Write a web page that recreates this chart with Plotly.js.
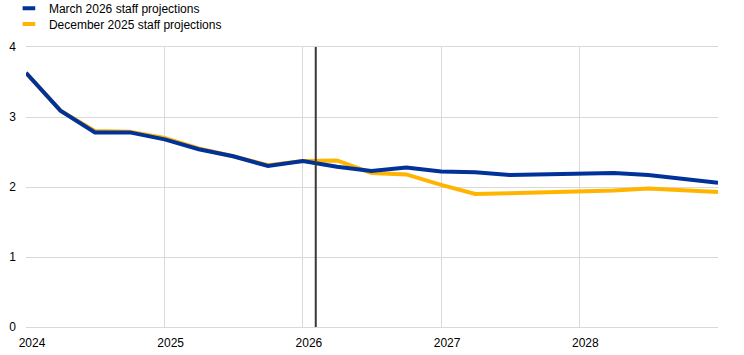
<!DOCTYPE html>
<html>
<head>
<meta charset="utf-8">
<script src="https://cdn.plot.ly/plotly-3.0.1.min.js"></script>
<style>html,body{margin:0;padding:0;background:#fff;}#chart{width:744px;height:355px;}</style>
</head>
<body>
<div id="chart"></div>
<script>
// Quarterly observation dates
const quarters = [
  "2024-01-01","2024-04-01","2024-07-01","2024-10-01",
  "2025-01-01","2025-04-01","2025-07-01","2025-10-01",
  "2026-01-01","2026-04-01","2026-07-01","2026-10-01",
  "2027-01-01","2027-04-01","2027-07-01","2027-10-01",
  "2028-01-01","2028-04-01","2028-07-01","2028-10-01",
  "2029-01-01"
];
const march2026 = [3.63, 3.09, 2.78, 2.78, 2.68, 2.54, 2.44, 2.30, 2.37, 2.29, 2.23, 2.28, 2.22, 2.21, 2.17, 2.18, 2.20, 2.20, 2.17, 2.11, 2.06];
const december2025 = [3.63, 3.09, 2.80, 2.79, 2.70, 2.55, 2.44, 2.31, 2.37, 2.38, 2.20, 2.18, 2.03, 1.90, 1.91, 1.92, 1.94, 1.95, 1.98, 1.95, 1.93];
const seriesNames = ["March 2026 staff projections", "December 2025 staff projections"];
const seriesColors = ["#003299", "#FFB400"];
const yearTicks = ["2024-01-01","2025-01-01","2026-01-01","2027-01-01","2028-01-01"];
const yearLabels = ["2024","2025","2026","2027","2028"];
const cutoffDate = "2026-02-04";

const font = "Arial, 'Liberation Sans', sans-serif";

const traces = [
  {x: quarters, y: december2025, type: "scatter", mode: "lines", name: seriesNames[1],
   line: {color: seriesColors[1], width: 4}, showlegend: false, hoverinfo: "skip"},
  {x: quarters, y: march2026, type: "scatter", mode: "lines", name: seriesNames[0],
   line: {color: seriesColors[0], width: 4}, showlegend: false, hoverinfo: "skip"},
  // legend entries (one per legend box to control row spacing)
  {x: [null], y: [null], type: "scatter", mode: "markers", name: seriesNames[0], legend: "legend",
   marker: {symbol: "line-ew", size: 9, color: seriesColors[0], line: {color: seriesColors[0], width: 4}}},
  {x: [null], y: [null], type: "scatter", mode: "markers", name: seriesNames[1], legend: "legend2",
   marker: {symbol: "line-ew", size: 9, color: seriesColors[1], line: {color: seriesColors[1], width: 4}}}
];

const legendBase = {x: 0.012, xref: "container", yref: "paper", xanchor: "left", yanchor: "top",
  orientation: "v", font: {family: font, size: 12, color: "#000"},
  itemwidth: 30, tracegroupgap: 0, bgcolor: "rgba(0,0,0,0)"};

const layout = {
  width: 744, height: 355,
  margin: {l: 26, r: 26, t: 47, b: 28, pad: 0, autoexpand: false},
  paper_bgcolor: "#fff", plot_bgcolor: "#fff",
  font: {family: font, size: 12, color: "#000"},
  showlegend: true,
  legend: Object.assign({}, legendBase, {y: 1.19}),
  legend2: Object.assign({}, legendBase, {y: 1.134}),
  xaxis: {
    type: "date", range: ["2024-01-01", "2029-01-01"],
    tickmode: "array", tickvals: yearTicks, ticktext: yearLabels,
    showgrid: true, gridcolor: "#d9d9d9", gridwidth: 1,
    showline: true, linecolor: "#d9d9d9", linewidth: 1, mirror: true,
    zeroline: false, ticks: "", ticklabelshift: 6, ticklabelstandoff: 5,
    tickfont: {family: font, size: 12, color: "#000"}, fixedrange: true
  },
  yaxis: {
    range: [0, 4], tickmode: "array", tickvals: [0,1,2,3,4],
    showgrid: true, gridcolor: "#d9d9d9", gridwidth: 1,
    showline: false, zeroline: false, ticks: "", ticklabelstandoff: 9,
    tickfont: {family: font, size: 12, color: "#000"}, fixedrange: true
  },
  shapes: [
    {type: "line", xref: "x", yref: "paper", x0: cutoffDate, x1: cutoffDate, y0: 0, y1: 1,
     line: {color: "#383838", width: 2}, layer: "above"}
  ]
};

Plotly.newPlot("chart", traces, layout, {displayModeBar: false, staticPlot: true});
</script>
</body>
</html>
